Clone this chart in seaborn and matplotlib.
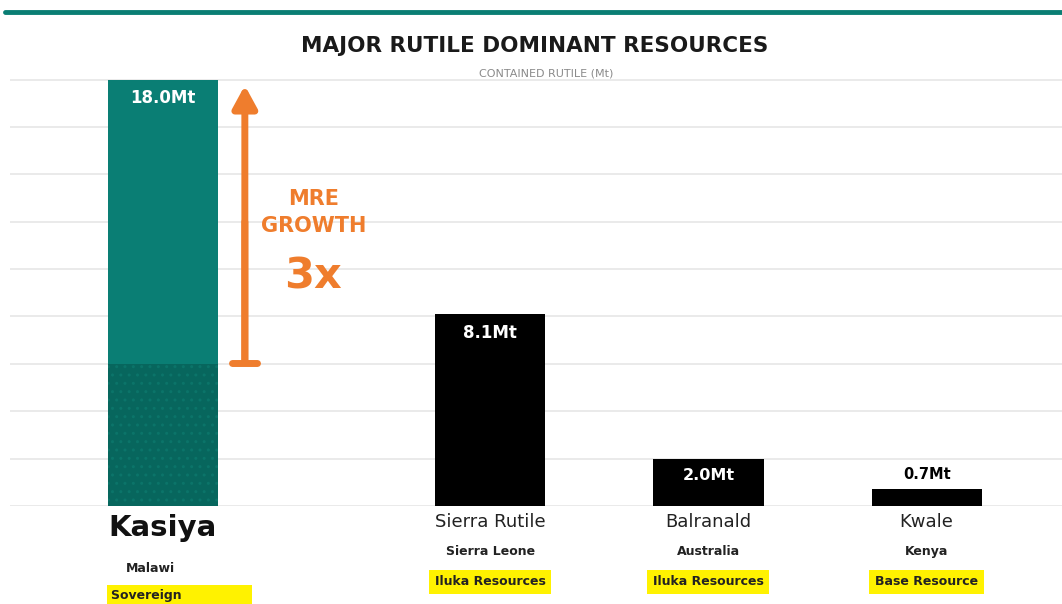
import matplotlib
matplotlib.use("Agg")
import matplotlib.pyplot as plt
import seaborn as sns
import pandas as pd
import numpy as np

# ---- data ----
projects = ["Kasiya", "Sierra Rutile", "Balranald", "Kwale"]
countries = ["Malawi", "Sierra Leone", "Australia", "Kenya"]
companies = ["Sovereign", "Iluka Resources", "Iluka Resources", "Base Resource"]
contained_rutile = [18.0, 8.1, 2.0, 0.7]
previous_mre = [6.0, 0, 0, 0]          # Kasiya's earlier MRE (3x growth)
value_labels = ["18.0Mt", "8.1Mt", "2.0Mt", "0.7Mt"]
growth_text = "MRE\nGROWTH"
growth_mult = "3x"

# ---- layout ----
slot = [0.0, 1.5, 2.5, 3.5]
teal = "#0a7e74"
teal_dark = "#07665d"
orange = "#ef7d2d"
yellow = "#fff200"

sns.set_theme(style="white")
plt.rcParams["font.family"] = ["DejaVu Sans"]

fig = plt.figure(figsize=(10.62, 6.04), dpi=100)
ax = fig.add_axes([10 / 1062, 98 / 604, 1052 / 1062, 430 / 604])

df = pd.DataFrame({"pos": slot, "val": contained_rutile, "prev": previous_mre})
bar_colors = [teal, "#000000", "#000000", "#000000"]

sns.barplot(data=df, x="pos", y="val", native_scale=True, width=0.505,
            hue="pos", palette=bar_colors, legend=False, ax=ax, zorder=3,
            linewidth=0, saturation=1)
sns.barplot(data=df.iloc[:1], x="pos", y="prev", native_scale=True, width=0.505,
            color=teal_dark, ax=ax, zorder=4, linewidth=0, saturation=1)
for p in ax.patches[len(slot):]:
    p.set_hatch("..")
    p.set_edgecolor("#0b7469")
    p.set_linewidth(0)

ax.set_xlim(-0.70, 4.12)
ax.set_ylim(0, 18.15)
ax.set_yticks(np.arange(0, 19, 2))
ax.yaxis.grid(True, color="#e6e6e6", lw=1.2)
ax.set_axisbelow(True)
ax.set_xticks([])
ax.set_yticklabels([])
ax.tick_params(left=False, bottom=False)
ax.set_xlabel("")
ax.set_ylabel("")
for s in ax.spines.values():
    s.set_visible(False)

# value labels
for i, (x, v, lab) in enumerate(zip(slot, contained_rutile, value_labels)):
    if v > 1.5:
        ax.annotate(lab, (x, v), xytext=(0, -7), textcoords="offset points",
                    ha="center", va="top", color="white", fontsize=12 if v > 5 else 11.5,
                    fontweight="bold", zorder=5)
    else:
        ax.annotate(lab, (x, v), xytext=(0, 5), textcoords="offset points",
                    ha="center", va="bottom", color="black", fontsize=10.5,
                    fontweight="bold", zorder=5)

# growth arrow
ax_x = slot[0] + 0.376
ax.annotate("", xy=(ax_x, 17.75), xytext=(ax_x, 6.05),
            arrowprops=dict(arrowstyle="-|>,head_length=1.1,head_width=0.6",
                            lw=5, color=orange, shrinkA=0, shrinkB=0), zorder=5)
ax.annotate("", xy=(ax_x, 12), xytext=(ax_x, 6.05),
            arrowprops=dict(arrowstyle="|-|,widthA=0.75,widthB=0",
                            lw=5, color=orange, shrinkA=0, shrinkB=0), zorder=5)
ax.text(slot[0] + 0.69, 12.4, growth_text, ha="center", va="center",
        color=orange, fontsize=15, fontweight="bold", linespacing=1.45)
ax.text(slot[0] + 0.69, 9.7, growth_mult, ha="center", va="center",
        color=orange, fontsize=31, fontweight="bold")

# category labels under bars
for i, (x, name, c, comp) in enumerate(zip(slot, projects, countries, companies)):
    if i == 0:
        ax.annotate(name, (x, 0), xytext=(0, -6), textcoords="offset points",
                    ha="center", va="top", fontsize=21, fontweight="bold", color="#111111")
        ax.annotate(c, (x, 0), xytext=(-9, -40), textcoords="offset points",
                    ha="center", va="top", fontsize=9, fontweight="bold", color="#222222")
        ax.annotate(comp + "               ", (x, 0), xytext=(-37, -60), textcoords="offset points",
                    ha="left", va="top", fontsize=9, fontweight="bold", color="#222222",
                    bbox=dict(boxstyle="square,pad=0.35", fc=yellow, ec="none"))
    else:
        ax.annotate(name, (x, 0), xytext=(0, -5), textcoords="offset points",
                    ha="center", va="top", fontsize=13, color="#222222")
        ax.annotate(c, (x, 0), xytext=(0, -28), textcoords="offset points",
                    ha="center", va="top", fontsize=9, fontweight="bold", color="#222222")
        ax.annotate(comp, (x, 0), xytext=(0, -50), textcoords="offset points",
                    ha="center", va="top", fontsize=9, fontweight="bold", color="#222222",
                    bbox=dict(boxstyle="square,pad=0.45", fc=yellow, ec="none"))

# header
fig.add_artist(plt.Line2D([5 / 1062, 1], [1 - 12 / 604] * 2, color=teal, lw=3.5,
                          transform=fig.transFigure))
fig.text(535 / 1062, 1 - 46 / 604, "MAJOR RUTILE DOMINANT RESOURCES", ha="center",
         va="center", fontsize=15.5, fontweight="bold", color="#1a1a1a")
fig.text(546 / 1062, 1 - 73 / 604, "CONTAINED RUTILE (Mt)", ha="center",
         va="center", fontsize=8, color="#8a8a8a")

fig.savefig("out.png", dpi=100, facecolor="white")
